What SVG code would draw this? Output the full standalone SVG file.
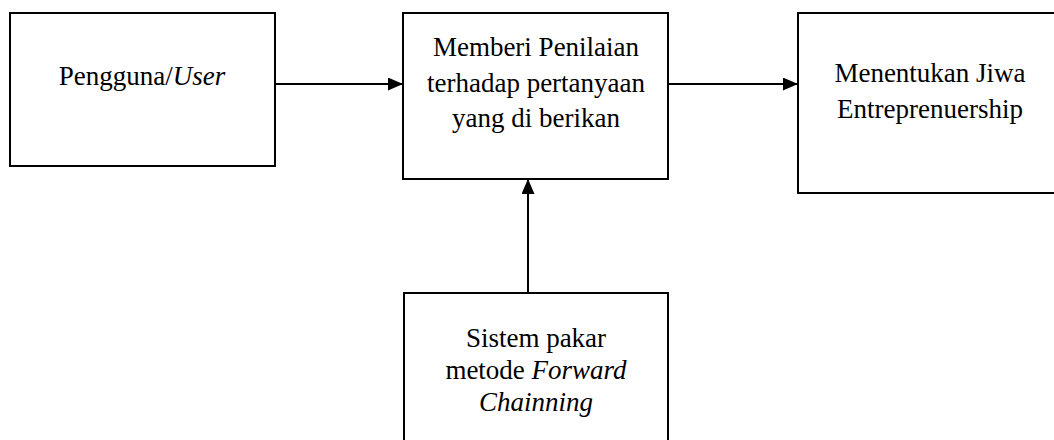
<svg xmlns="http://www.w3.org/2000/svg" width="1054" height="440" viewBox="0 0 1054 440">
<style>
.box{fill:#fff;stroke:#000;stroke-width:2}
.t{font-family:"Liberation Serif","Times New Roman",serif;font-size:27px;fill:#000;text-anchor:middle}
.c{stroke:#000;stroke-width:2;fill:none}
</style>
<defs>
<marker id="ah" markerWidth="15" markerHeight="13" refX="15" refY="6.5" orient="auto" markerUnits="userSpaceOnUse">
<path d="M0,0 L15,6.5 L0,13 Z" fill="#000"/>
</marker>
</defs>
<rect width="1054" height="440" fill="#fff"/>
<g id="user">
<rect class="box" x="10" y="13" width="265" height="153"/>
<text class="t" x="142" y="85">Pengguna/<tspan font-style="italic">User</tspan></text>
</g>
<g id="penilaian">
<rect class="box" x="403" y="13" width="265" height="166"/>
<text class="t" x="536" y="56">Memberi Penilaian</text>
<text class="t" x="536" y="92">terhadap pertanyaan</text>
<text class="t" x="536" y="127">yang di berikan</text>
</g>
<g id="jiwa">
<rect class="box" x="798" y="13" width="262" height="180"/>
<text class="t" x="930" y="82">Menentukan Jiwa</text>
<text class="t" x="930" y="118">Entreprenuership</text>
</g>
<g id="sistem">
<rect class="box" x="404" y="293" width="264" height="160"/>
<text class="t" x="536" y="347">Sistem pakar</text>
<text class="t" x="536" y="379">metode <tspan font-style="italic">Forward</tspan></text>
<text class="t" x="536" y="411" font-style="italic">Chainning</text>
</g>
<g id="connectors">
<line class="c" x1="275" y1="84" x2="403" y2="84" marker-end="url(#ah)"/>
<line class="c" x1="668" y1="84" x2="798" y2="84" marker-end="url(#ah)"/>
<line class="c" x1="528" y1="293" x2="528" y2="179" marker-end="url(#ah)"/>
</g>
</svg>
